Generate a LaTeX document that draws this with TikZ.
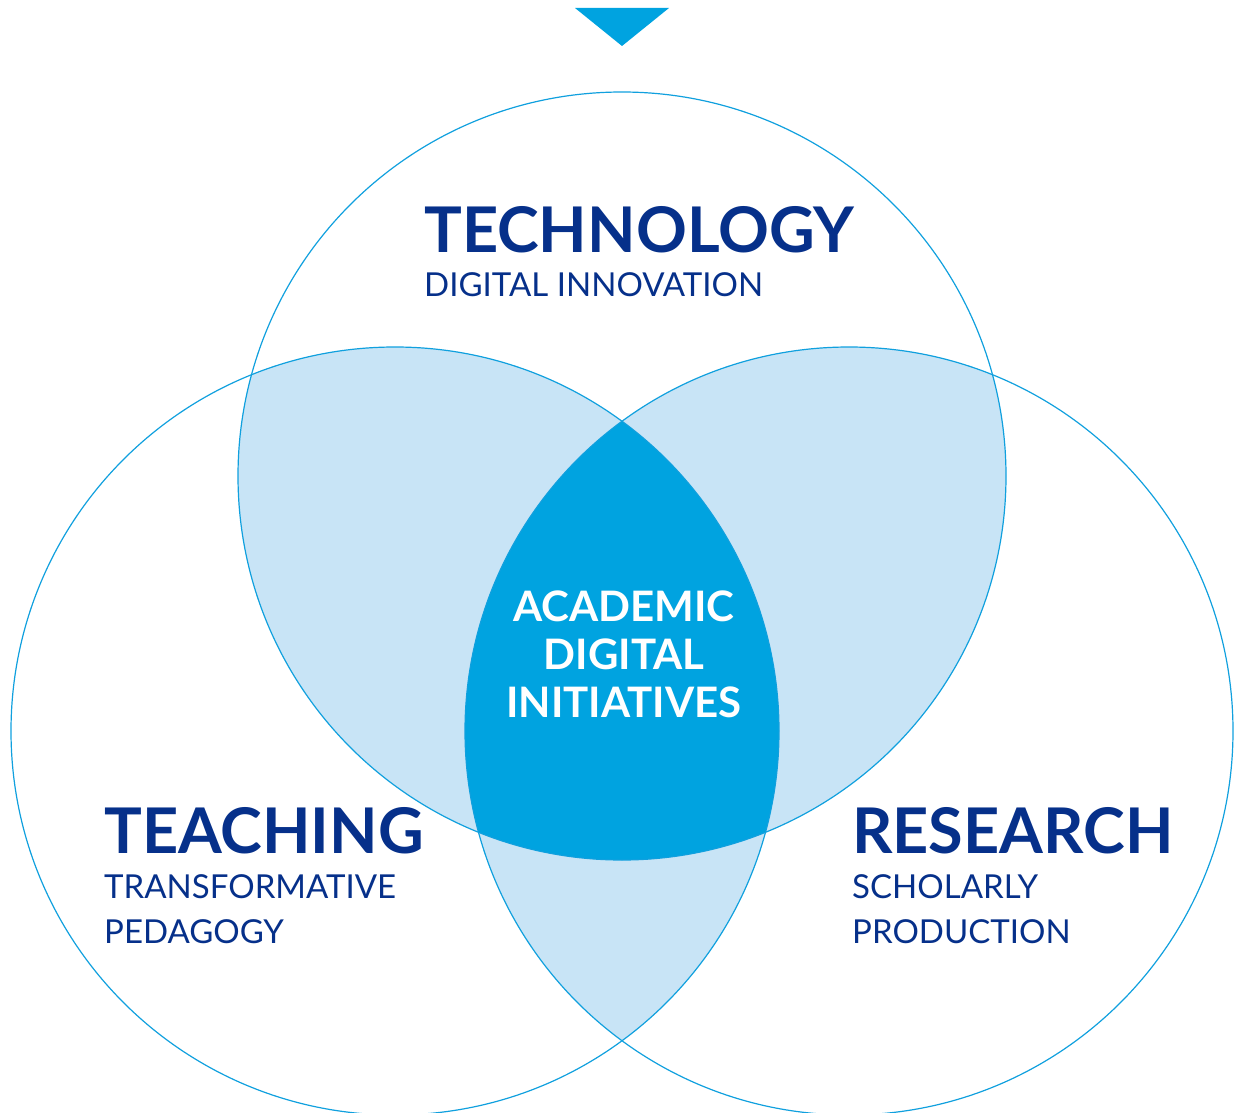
\documentclass[tikz,border=0pt]{standalone}
\usepackage{fontspec}
\setmainfont{Lato}
\definecolor{navy}{HTML}{06308A}
\definecolor{lightb}{HTML}{C8E4F6}
\definecolor{darkb}{HTML}{00A3E0}
\definecolor{strokeb}{HTML}{10A0DE}
\tikzset{
  ring/.style={draw=strokeb, line width=1.2pt},
  head/.style={anchor=base west, inner sep=0pt, text=navy, font=\fontsize{63}{63}\selectfont\bfseries},
  sub/.style={anchor=base west, inner sep=0pt, text=navy, font=\fontsize{33}{45}\selectfont, align=left},
  centre/.style={inner sep=0pt, text=white, font=\fontsize{42}{48}\selectfont\bfseries, align=center}
}
\begin{document}
\begin{tikzpicture}[x=1pt,y=-1pt]
\useasboundingbox (0,0) rectangle (1235,1113);
\def\R{384}
\coordinate (ct) at (622,476);
\coordinate (cl) at (395,731);
\coordinate (cr) at (849,731);
% pairwise lenses
\begin{scope}\clip (ct) circle[radius=\R]; \fill[lightb] (cl) circle[radius=\R];\end{scope}
\begin{scope}\clip (ct) circle[radius=\R]; \fill[lightb] (cr) circle[radius=\R];\end{scope}
\begin{scope}\clip (cl) circle[radius=\R]; \fill[lightb] (cr) circle[radius=\R];\end{scope}
% triple
\begin{scope}\clip (ct) circle[radius=\R]; \clip (cl) circle[radius=\R]; \fill[darkb] (cr) circle[radius=\R];\end{scope}
% outlines
\draw[ring] (ct) circle[radius=\R];
\draw[ring] (cl) circle[radius=\R];
\draw[ring] (cr) circle[radius=\R];
% triangle
\fill[darkb] (575,8) -- (669,8) -- (622,46) -- cycle;
% texts
\node[head] (tech) at (424,252) {TECHNOLOGY};
\node[sub] (techs) at (424,296) {DIGITAL INNOVATION};
\node[head] (teach) at (104,853) {TEACHING};
\node[sub, anchor=north west] (teachs) at (104,874) {TRANSFORMATIVE\\PEDAGOGY};
\node[head] (res) at (852,853) {RESEARCH};
\node[sub, anchor=north west] (ress) at (852,874) {SCHOLARLY\\PRODUCTION};
\node[centre] (adi) at (624,654) {ACADEMIC\\DIGITAL\\INITIATIVES};
\end{tikzpicture}
\end{document}
